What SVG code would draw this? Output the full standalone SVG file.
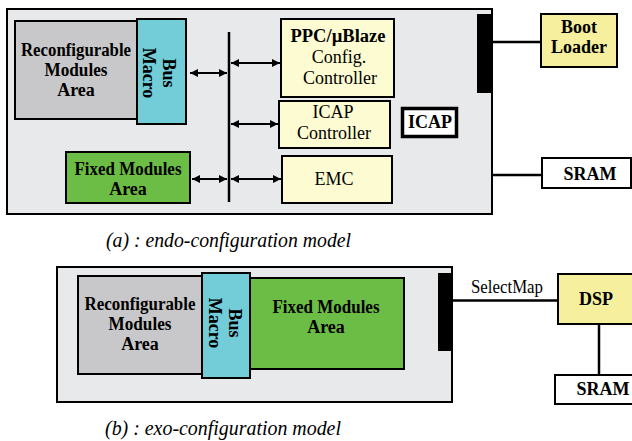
<svg xmlns="http://www.w3.org/2000/svg" width="632" height="441" viewBox="0 0 632 441">
<style>
.bx{stroke:#000;stroke-width:2}
.ln{stroke:#000;stroke-width:2.5;fill:none}
.ar{stroke:#000;stroke-width:2;fill:none;marker-start:url(#ah);marker-end:url(#ah)}
.t{font-family:'Liberation Serif','Times New Roman',Tinos,'Nimbus Roman','DejaVu Serif',serif;font-size:18px;text-anchor:middle;fill:#000}
.b{font-weight:bold}
.cap{font-family:'Liberation Serif','Times New Roman',Tinos,'Nimbus Roman','DejaVu Serif',serif;font-style:italic;font-size:20px;fill:#000}
</style>
<defs>
<marker id="ah" markerUnits="userSpaceOnUse" markerWidth="10" markerHeight="10" refX="8" refY="4" orient="auto-start-reverse">
<path d="M0,0 L8,4 L0,8 Z" fill="#000"/>
</marker>
</defs>
<rect width="632" height="441" fill="#fff"/>

<!-- (a) endo-configuration -->
<g id="fpga-a"><rect class="bx" x="7" y="9" width="485" height="205" fill="#e8e9eb"/></g>
<g id="reconf-a">
<rect class="bx" x="15" y="21" width="122" height="98" fill="#c8c8ca"/>
<text class="t b" x="76" y="56" textLength="110" lengthAdjust="spacingAndGlyphs">Reconfigurable</text>
<text class="t b" x="76" y="76" textLength="63" lengthAdjust="spacingAndGlyphs">Modules</text>
<text class="t b" x="76" y="96">Area</text>
</g>
<g id="busmacro-a">
<rect class="bx" x="137" y="19" width="49" height="105" fill="#72cdd8"/>
<g transform="translate(161.5,73) rotate(90)">
<text class="t b" x="0" y="-1.5">Bus</text>
<text class="t b" x="0" y="18.5">Macro</text>
</g>
</g>
<g id="fixed-a">
<rect class="bx" x="66" y="152" width="124" height="51" fill="#6cbd45"/>
<text class="t b" x="128" y="175" textLength="107" lengthAdjust="spacingAndGlyphs">Fixed Modules</text>
<text class="t b" x="128" y="195">Area</text>
</g>
<g id="ppc">
<rect class="bx" x="281" y="19" width="113" height="78" fill="#fdfbd2"/>
<text class="t b" x="338" y="42" textLength="95" lengthAdjust="spacingAndGlyphs">PPC/µBlaze</text>
<text class="t" x="339" y="63">Config.</text>
<text class="t" x="340" y="84">Controller</text>
</g>
<g id="icapctrl">
<rect class="bx" x="279" y="101" width="111" height="47" fill="#fdfbd2"/>
<text class="t" x="333" y="118">ICAP</text>
<text class="t" x="334" y="139">Controller</text>
</g>
<g id="emc">
<rect class="bx" x="282" y="156" width="110" height="47" fill="#fdfbd2"/>
<text class="t" x="334" y="185">EMC</text>
</g>
<g id="icap">
<rect x="402.5" y="108.5" width="54" height="28" fill="#fff" stroke="#000" stroke-width="3.5"/>
<text class="t b" x="430" y="128">ICAP</text>
</g>
<g id="port-a"><rect x="477" y="14" width="14" height="79" fill="#000"/></g>
<g id="bootloader">
<rect class="bx" x="541" y="14" width="76" height="53" fill="#f5ef9e"/>
<text class="t b" x="579" y="33">Boot</text>
<text class="t b" x="579" y="53">Loader</text>
</g>
<g id="sram-a">
<rect class="bx" x="542" y="158" width="89" height="30" fill="#fff"/>
<text class="t b" x="590" y="180">SRAM</text>
</g>

<!-- (b) exo-configuration -->
<g id="fpga-b"><rect class="bx" x="57" y="267" width="395" height="135" fill="#e8e9eb"/></g>
<g id="reconf-b">
<rect class="bx" x="78" y="276" width="124" height="98" fill="#c8c8ca"/>
<text class="t b" x="140" y="310" textLength="111" lengthAdjust="spacingAndGlyphs">Reconfigurable</text>
<text class="t b" x="140" y="330" textLength="63" lengthAdjust="spacingAndGlyphs">Modules</text>
<text class="t b" x="140" y="350">Area</text>
</g>
<g id="fixed-b">
<rect class="bx" x="250" y="278" width="154" height="91" fill="#6cbd45"/>
<text class="t b" x="326" y="313" textLength="107" lengthAdjust="spacingAndGlyphs">Fixed Modules</text>
<text class="t b" x="326" y="333">Area</text>
</g>
<g id="busmacro-b">
<rect class="bx" x="202" y="273" width="48" height="105" fill="#72cdd8"/>
<g transform="translate(226,323) rotate(90)">
<text class="t b" x="0" y="-3">Bus</text>
<text class="t b" x="0" y="17">Macro</text>
</g>
</g>
<g id="port-b"><rect x="438" y="273" width="13" height="78" fill="#000"/></g>
<g id="dsp">
<rect class="bx" x="558" y="274" width="80" height="50" fill="#f5ef9e"/>
<text class="t b" x="596" y="305">DSP</text>
</g>
<g id="sram-b">
<rect class="bx" x="555" y="375" width="83" height="29" fill="#fff"/>
<text class="t b" x="603" y="395">SRAM</text>
</g>

<g id="connectors">
<line class="ln" x1="229" y1="32" x2="229" y2="202" stroke-width="3"/>
<line class="ar" x1="190" y1="73" x2="227" y2="73"/>
<line class="ar" x1="192" y1="179" x2="227" y2="179"/>
<line class="ar" x1="231" y1="63" x2="280" y2="63"/>
<line class="ar" x1="231" y1="124" x2="278" y2="124"/>
<line class="ar" x1="231" y1="179" x2="281" y2="179"/>
<line class="ln" x1="491" y1="42" x2="541" y2="42"/>
<line class="ln" x1="492" y1="175" x2="542" y2="175"/>
<line class="ln" x1="452" y1="300.5" x2="558" y2="300.5"/>
<line class="ln" x1="599" y1="324" x2="599" y2="375"/>
<text class="t" x="507" y="293" textLength="72" lengthAdjust="spacingAndGlyphs">SelectMap</text>
</g>

<text class="cap" x="106" y="247" textLength="245" lengthAdjust="spacingAndGlyphs">(a) : endo-configuration model</text>
<text class="cap" x="105" y="435" textLength="236" lengthAdjust="spacingAndGlyphs">(b) : exo-configuration model</text>
</svg>
